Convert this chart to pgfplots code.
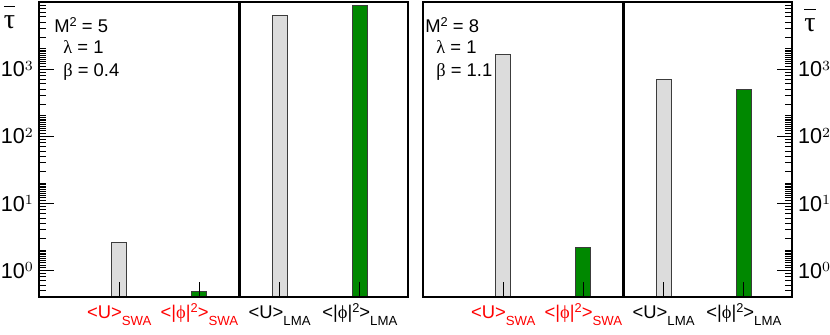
\documentclass[border=0pt]{standalone}
\usepackage{fontspec}
\setmainfont{Liberation Sans}
\newfontfamily\greek{Liberation Serif}
\usepackage{pgfplots}
\pgfplotsset{compat=1.18}

\definecolor{barGrey}{RGB}{220,220,220}
\definecolor{barGreen}{RGB}{0,136,0}
\definecolor{edge}{RGB}{60,60,60}

% sub/superscripts in the ROOT style
\newcommand\subs[1]{\raisebox{-3.6pt}{\fontsize{6.6}{7}\selectfont #1}}
\newcommand\sups[1]{\raisebox{3pt}{\fontsize{6.4}{7}\selectfont #1}}
\newcommand\expo[1]{\raisebox{3.4pt}{\fontsize{7.4}{8}\selectfont #1}}
\newcommand\lblU{<U>}
\newcommand\lblP{<|{\greek ϕ}|\sups{2}>}

\begin{document}
\begin{tikzpicture}
\path[use as bounding box] (0,0) rectangle (415pt,167pt);

% left panel
\begin{axis}[at={(19.5pt,18.5pt)}, anchor=south west,
    scale only axis, width=184.5pt, height=147.5pt,
    xmin=0, xmax=4.6, ymode=log, log basis y=10, ymin=0.4, ymax=10000,
    log origin y=infty, axis on top,
    axis line style={line width=0.6pt},
    major tick length=7.5pt, minor tick length=3.5pt,
    tick style={black, line width=0.5pt},
    xtick={1,2,3,4}, xtick pos=bottom, xtick align=inside,
    ytick={1,10,100,1000}, ytick pos=left, ytick align=inside,
    yticklabel={10\expo{\pgfmathprintnumber[fixed,precision=0]{\tick}}},
    yticklabel style={font=\fontsize{10.8}{12}\selectfont, xshift=0.5pt},
    xticklabels={{\color{red}\lblU\subs{SWA}},{\color{red}\lblP\subs{SWA}},
                 {\lblU\subs{LMA}},{\lblP\subs{LMA}}},
    xticklabel style={anchor=base, yshift=-10.5pt, font=\fontsize{9.2}{10}\selectfont}]
\addplot[ybar, bar width=7.5pt, draw=edge, line width=0.5pt, fill=barGrey] coordinates {(1,2.6) (3,6300)};
\addplot[ybar, bar width=7.5pt, draw=edge, line width=0.5pt, fill=barGreen] coordinates {(2,0.49) (4,9000)};
\draw[line width=1.5pt] (axis cs:2.5,0.4) -- (axis cs:2.5,10000);
\pgfplotsinvokeforeach{1,10,100,1000}{\draw[line width=0.5pt] (axis cs:0,#1) -- ++(7.5pt,0pt);}
\pgfplotsinvokeforeach{0.5,0.6,0.7,0.8,0.9,1.1,1.2,1.3,1.4,1.5,1.6,1.7,1.8,1.9,2,3,4,5,6,7,8,9,11,12,13,14,15,16,17,18,19,20,30,40,50,60,70,80,90,110,120,130,140,150,160,170,180,190,200,300,400,500,600,700,800,900,1100,1200,1300,1400,1500,1600,1700,1800,1900,2000,3000,4000,5000,6000,7000,8000,9000}{\draw[line width=0.5pt] (axis cs:0,#1) -- ++(3.5pt,0pt);}
\end{axis}

% right panel
\begin{axis}[at={(211.5pt,18.5pt)}, anchor=south west,
    scale only axis, width=184.5pt, height=147.5pt,
    xmin=0, xmax=4.6, ymode=log, log basis y=10, ymin=0.4, ymax=10000,
    log origin y=infty, axis on top,
    axis line style={line width=0.6pt},
    major tick length=7.5pt, minor tick length=3.5pt,
    tick style={black, line width=0.5pt},
    xtick={1,2,3,4}, xtick pos=bottom, xtick align=inside,
    ytick={1,10,100,1000}, ytick pos=right, yticklabel pos=right, ytick align=inside,
    yticklabel={10\expo{\pgfmathprintnumber[fixed,precision=0]{\tick}}},
    yticklabel style={font=\fontsize{10.8}{12}\selectfont, xshift=-0.5pt},
    xticklabels={{\color{red}\lblU\subs{SWA}},{\color{red}\lblP\subs{SWA}},
                 {\lblU\subs{LMA}},{\lblP\subs{LMA}}},
    xticklabel style={anchor=base, yshift=-10.5pt, font=\fontsize{9.2}{10}\selectfont}]
\addplot[ybar, bar width=7.5pt, draw=edge, line width=0.5pt, fill=barGrey] coordinates {(1,1670) (3,702)};
\addplot[ybar, bar width=7.5pt, draw=edge, line width=0.5pt, fill=barGreen] coordinates {(2,2.18) (4,490)};
\draw[line width=1.5pt] (axis cs:2.5,0.4) -- (axis cs:2.5,10000);
\pgfplotsinvokeforeach{1,10,100,1000}{\draw[line width=0.5pt] (axis cs:4.6,#1) -- ++(-7.5pt,0pt);}
\pgfplotsinvokeforeach{0.5,0.6,0.7,0.8,0.9,1.1,1.2,1.3,1.4,1.5,1.6,1.7,1.8,1.9,2,3,4,5,6,7,8,9,11,12,13,14,15,16,17,18,19,20,30,40,50,60,70,80,90,110,120,130,140,150,160,170,180,190,200,300,400,500,600,700,800,900,1100,1200,1300,1400,1500,1600,1700,1800,1900,2000,3000,4000,5000,6000,7000,8000,9000}{\draw[line width=0.5pt] (axis cs:4.6,#1) -- ++(-3.5pt,0pt);}
\end{axis}

% axis titles
\node[inner sep=0] at (4.8pt,158.5pt) {\fontsize{14}{16}\selectfont$\overline{\hbox{\vphantom{T}\greek τ}}$};
\node[inner sep=0] at (405pt,157pt) {\fontsize{14}{16}\selectfont$\overline{\hbox{\vphantom{T}\greek τ}}$};

% parameters
\begin{scope}[every node/.style={anchor=base west, inner sep=0, font=\fontsize{9.2}{10}\selectfont}]
\node at (27pt,151pt) {M\sups{2} = 5};
\node at (31.5pt,140.5pt) {{\greek λ} = 1};
\node at (31.5pt,129pt) {{\greek β} = 0.4};
\node at (212.5pt,151pt) {M\sups{2} = 8};
\node at (218pt,140.5pt) {{\greek λ} = 1};
\node at (218pt,129pt) {{\greek β} = 1.1};
\end{scope}
\end{tikzpicture}
\end{document}
